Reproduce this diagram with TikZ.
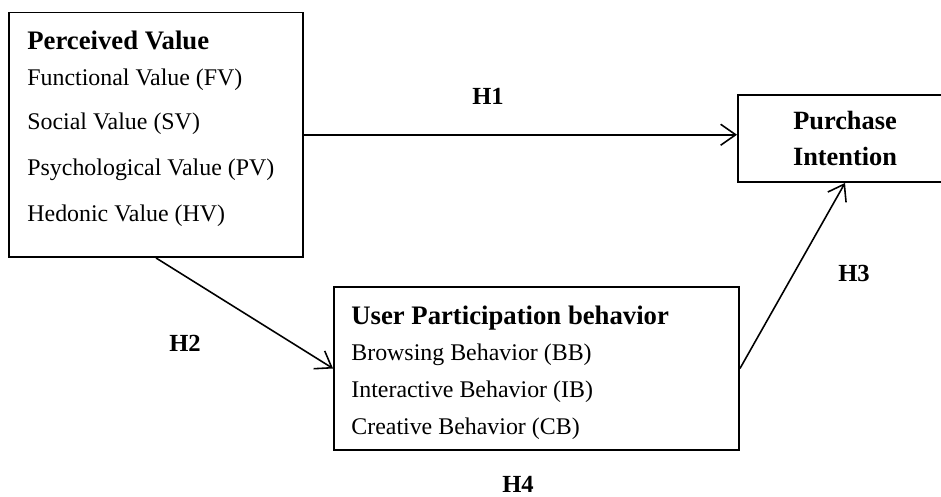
\documentclass[tikz,border=0pt]{standalone}
\usepackage{fontspec}
\setmainfont{Liberation Serif}
\usetikzlibrary{arrows.meta,positioning}

\newcommand{\boxtitle}[1]{{\fontsize{15.2}{16}\selectfont\bfseries #1}}

\begin{document}
\begin{tikzpicture}[
    box/.style={draw, line width=1.1pt, inner sep=0pt},
    items/.style={align=left, inner sep=0pt, anchor=north west, font=\fontsize{13.6}{16}\selectfont},
    hyp/.style={font=\fontsize{14}{16}\selectfont\bfseries},
    arr/.style={-{Straight Barb[length=0.3cm, width=0.42cm]}, line width=0.9pt}
]
\useasboundingbox (0,0) rectangle (18.82,9.94);

\node[box, minimum width=5.88cm, minimum height=4.89cm] (pv) at (3.12,7.245) {};
\node[items] (pvlist) at ([xshift=0.38cm, yshift=-0.38cm]pv.north west) {\boxtitle{Perceived Value}\\[0.16cm]Functional Value (FV)\\[0.32cm]Social Value (SV)\\[0.36cm]Psychological Value (PV)\\[0.36cm]Hedonic Value (HV)};

\node[box, minimum width=8.1cm, minimum height=3.26cm] (up) at (10.73,2.57) {};
\node[items] (uplist) at ([xshift=0.36cm, yshift=-0.39cm]up.north west) {\boxtitle{User Participation behavior}\\[0.16cm]Browsing Behavior (BB)\\[0.18cm]Interactive Behavior (IB)\\[0.18cm]Creative Behavior (CB)};

\node[box, minimum width=4.28cm, minimum height=1.74cm, align=center, font=\fontsize{15}{16}\selectfont\bfseries] (pi) at (16.9,7.17) {Purchase\\[0.16cm]Intention};

\node[hyp] (h1) at (9.76,8.02) {H1};
\node[hyp] (h2) at (3.70,3.08) {H2};
\node[hyp] (h3) at (17.08,4.48) {H3};
\node[hyp] (h4) at (10.36,0.25) {H4};

\draw[arr] (pv.east) -- (pv.east -| pi.west);
\draw[arr] (pv.south) -- (up.west);
\draw[arr] (up.east) -- (pi.south);
\end{tikzpicture}
\end{document}
